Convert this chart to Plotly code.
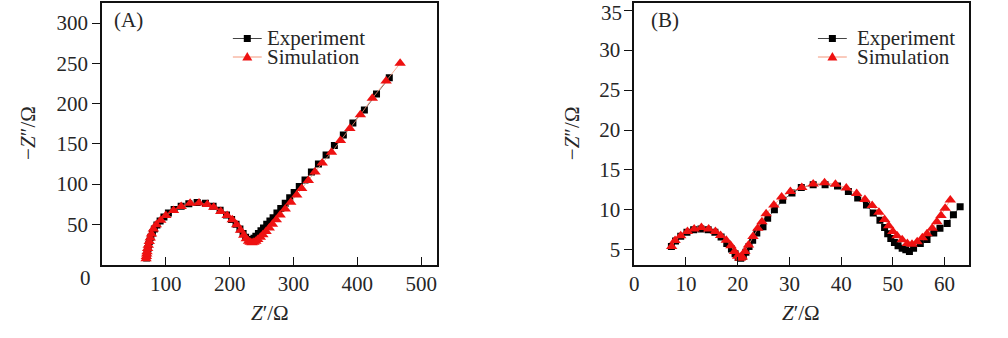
import plotly.graph_objects as go

# ---------------- Data: panel A ----------------
a_exp_x = [70, 70.5, 71, 72, 73, 74.5, 76.5, 79, 82, 86, 91, 97, 104, 113, 124, 136, 149, 162,
           174, 185, 195, 203, 210, 216, 221, 225, 229, 232,
           235, 238, 241, 245, 249, 253, 258, 263, 268, 274, 280, 287, 294, 301, 309, 318,
           328, 339, 351, 364, 378, 393, 411, 430, 450]
a_exp_y = [8, 12, 16, 20, 24.5, 29, 34, 39, 44, 49, 54, 59, 64, 68.5, 72.5, 75.5, 77, 76,
           72.5, 67.5, 61.5, 56, 50, 44, 38.5, 34, 31, 29.5,
           30, 32.5, 35, 38.5, 42, 45.5, 50, 54, 58, 64, 69.5, 76, 83, 89.5, 97, 105,
           115, 125, 136, 148, 161, 176, 192, 212, 232]

a_sim_x = [69, 69.5, 70, 70.5, 71.5, 72.5, 74, 75.5, 77.5, 80.5, 85, 92, 100, 112, 124, 138,
           152, 165, 175, 186, 196, 204, 211, 217, 222, 226, 229.5, 232, 235, 238,
           241, 244, 248, 252, 257, 262, 267, 273, 279, 287, 295.6, 305, 312.8, 323.2,
           333.6, 345, 359.5, 373.5, 388.2, 404.7, 423.4, 445, 467]
a_sim_y = [7, 10, 13, 16, 20, 24, 28.5, 33, 38, 44, 49.5, 55, 61, 67, 72, 76,
           76.5, 74.5, 71, 66, 61, 55.5, 49.5, 42.5, 36.5, 32, 29, 27.5, 27, 27.5,
           29, 31, 34, 37, 41, 45.5, 50, 55.5, 61.5, 69, 77.5, 86.5, 94.5, 104.5,
           115, 126, 139.5, 154, 169, 186, 206.5, 228, 250]

# ---------------- Data: panel B ----------------
b_exp_x = [7.2, 8.0, 9.0, 10.2, 11.5, 12.9, 14.3, 15.6, 16.8, 17.9, 18.8, 19.5, 20.1, 20.6,
           21.1, 21.6, 22.2, 22.9, 23.7, 24.9, 25.8, 27.1, 28.7, 30.5, 32.3, 34.6, 36.9,
           39.3, 41.4, 43.2, 44.9, 46.2, 47.5, 48.4, 49.0, 49.6, 50.3, 51.0, 51.8, 52.5,
           53.2, 54.0, 55.3, 56.6, 57.9, 59.1, 60.5, 61.7, 63.0]
b_exp_y = [5.4, 6.1, 6.7, 7.2, 7.5, 7.6, 7.5, 7.2, 6.6, 5.8, 5.1, 4.5, 4.05, 3.95,
           4.2, 4.7, 5.4, 6.2, 7.1, 7.9, 8.95, 10.0, 11.2, 12.1, 12.8, 13.15, 13.15,
           13.0, 12.3, 11.5, 10.6, 9.6, 8.7, 7.8, 7.0, 6.4, 5.9, 5.5, 5.2, 5.0,
           4.8, 5.2, 5.8, 6.3, 7.1, 7.7, 8.3, 9.4, 10.4]

b_sim_x = [7.25, 7.9, 9.0, 10.3, 11.6, 13.0, 14.4, 15.7, 16.7, 17.8, 18.7, 19.4, 20.0, 20.5,
           20.9, 21.4, 22.1, 22.96, 23.9, 24.7, 25.5, 27.0, 28.5, 30.2, 32.4, 34.6, 36.8,
           38.9, 41.0, 43.0, 44.6, 46.0, 47.3, 48.4, 49.2, 50.0, 50.8, 51.8, 52.8, 53.7,
           54.7, 55.7, 56.6, 57.6, 58.5, 59.3, 60.1, 61.1]
b_sim_y = [5.4, 6.15, 6.75, 7.3, 7.6, 7.8, 7.6, 7.3, 6.8, 6.2, 5.5, 4.8, 4.2, 3.95,
           4.1, 4.8, 5.6, 6.66, 7.7, 8.5, 9.5, 10.6, 11.6, 12.3, 12.8, 13.25, 13.4,
           13.2, 12.75, 12.05, 11.3, 10.55, 9.7, 8.8, 8.0, 7.3, 6.75, 6.25, 5.8, 5.7,
           6.0, 6.5, 7.0, 7.7, 8.5, 9.3, 10.2, 11.25]

# ---------------- Tick labels ----------------
a_xticks = [100, 200, 300, 400, 500]
a_yticks = [50, 100, 150, 200, 250, 300]
b_xticks = [0, 10, 20, 30, 40, 50, 60]
b_yticks = [5, 10, 15, 20, 25, 30, 35]
# topmost label of panel B is drawn as an annotation so it stays inside the page
b_ytext = [str(v) for v in b_yticks[:-1]] + [""]
b_ytop_label = str(b_yticks[-1])

series_names = ["Experiment", "Simulation"]
panel_labels = ["(A)", "(B)"]
x_title = "<i>Z</i>′/Ω"
y_title = "−<i>Z</i>″/Ω"

W, H = 1008, 338
FONT = "Liberation Serif"
FS = 21
TXT = "#262626"
EXP_COLOR = "#000000"
EXP_LINE = "#444444"
SIM_COLOR = "#ee1111"
SIM_LINE = "#f4967a"

fig = go.Figure()

def add_series(xs, ys, xa, ya, color, lcolor, symbol, size):
    fig.add_trace(go.Scatter(
        x=xs, y=ys, xaxis=xa, yaxis=ya, mode="lines+markers",
        line=dict(color=lcolor, width=0.8),
        marker=dict(symbol=symbol, size=size, color=color, line=dict(width=0)),
        showlegend=False, hoverinfo="skip"))

add_series(a_exp_x, a_exp_y, "x", "y", EXP_COLOR, EXP_LINE, "square", 7)
add_series(a_sim_x, a_sim_y, "x", "y", SIM_COLOR, SIM_LINE, "triangle-up", 10)
add_series(b_exp_x, b_exp_y, "x2", "y2", EXP_COLOR, EXP_LINE, "square", 7)
add_series(b_sim_x, b_sim_y, "x2", "y2", SIM_COLOR, SIM_LINE, "triangle-up", 10)

def px(x):
    return x / W

def py(y):
    return 1 - y / H

ydom = [py(264.5), py(3)]
axis_common = dict(showline=True, linecolor="#111111", linewidth=1.5, mirror=True,
                   showgrid=False, zeroline=False, ticklen=8, tickwidth=1.3,
                   tickcolor="#111111",
                   tickfont=dict(family=FONT, size=FS, color=TXT))

fig.update_layout(
    width=W, height=H, margin=dict(l=0, r=0, t=0, b=0),
    paper_bgcolor="white", plot_bgcolor="white", showlegend=False,
    xaxis=dict(domain=[px(97.5), px(434)], range=[0, 524.5], tickvals=a_xticks,
               ticks="inside", anchor="y", **axis_common),
    yaxis=dict(domain=ydom, range=[0, 325], tickvals=a_yticks,
               ticks="outside", anchor="x", **axis_common),
    xaxis2=dict(domain=[px(632.3), px(969)], range=[0, 64.75], tickvals=b_xticks,
                ticks="inside", anchor="y2", **axis_common),
    yaxis2=dict(domain=ydom, range=[3.16, 35.9], tickvals=b_yticks, ticktext=b_ytext,
                ticks="outside", anchor="x2", **axis_common),
)

ann = []
def text(t, x, y, xanchor="center", angle=0, size=FS, yanchor="middle"):
    ann.append(dict(text=t, x=px(x), y=py(y), xref="paper", yref="paper",
                    xanchor=xanchor, yanchor=yanchor, showarrow=False, textangle=angle,
                    borderpad=0,
                    font=dict(family=FONT, size=size, color=TXT)))

# panel labels
text(panel_labels[0], 109, 20, "left")
text(panel_labels[1], 648, 20, "left")
# origin label in panel A
text("0", 81, 278)
# top tick label of panel B
text(b_ytop_label, 621, 0, "right", yanchor="top")
# axis titles
text(x_title, 266, 313)
text(x_title, 800, 313)
text(y_title, 23, 133, angle=-90)
text(y_title, 570, 133, angle=-90)

# custom legends
shapes = []
def legend(x0, x1, xt, yrow, name, color, lcolor, symbol):
    shapes.append(dict(type="line", xref="paper", yref="paper",
                       x0=px(x0), x1=px(x1), y0=py(yrow), y1=py(yrow),
                       line=dict(color=lcolor, width=1)))
    xc, yc = px((x0 + x1) / 2), py(yrow)
    if symbol == "square":
        shapes.append(dict(type="rect", xref="paper", yref="paper",
                           xsizemode="pixel", ysizemode="pixel", xanchor=xc, yanchor=yc,
                           x0=-3.5, x1=3.5, y0=-3.5, y1=3.5,
                           fillcolor=color, line=dict(width=0)))
    else:
        shapes.append(dict(type="path", xref="paper", yref="paper",
                           xsizemode="pixel", ysizemode="pixel", xanchor=xc, yanchor=yc,
                           path="M -5 -3.5 L 5 -3.5 L 0 5 Z",
                           fillcolor=color, line=dict(width=0)))
    text(name, xt, yrow, "left")

legend(229, 258, 262, 38.5, series_names[0], EXP_COLOR, EXP_LINE, "square")
legend(229, 258, 262, 57, series_names[1], SIM_COLOR, SIM_LINE, "triangle")
legend(817, 846, 855, 38.5, series_names[0], EXP_COLOR, EXP_LINE, "square")
legend(817, 846, 855, 57, series_names[1], SIM_COLOR, SIM_LINE, "triangle")

fig.update_layout(annotations=ann, shapes=shapes)
fig.write_html("out.html")
